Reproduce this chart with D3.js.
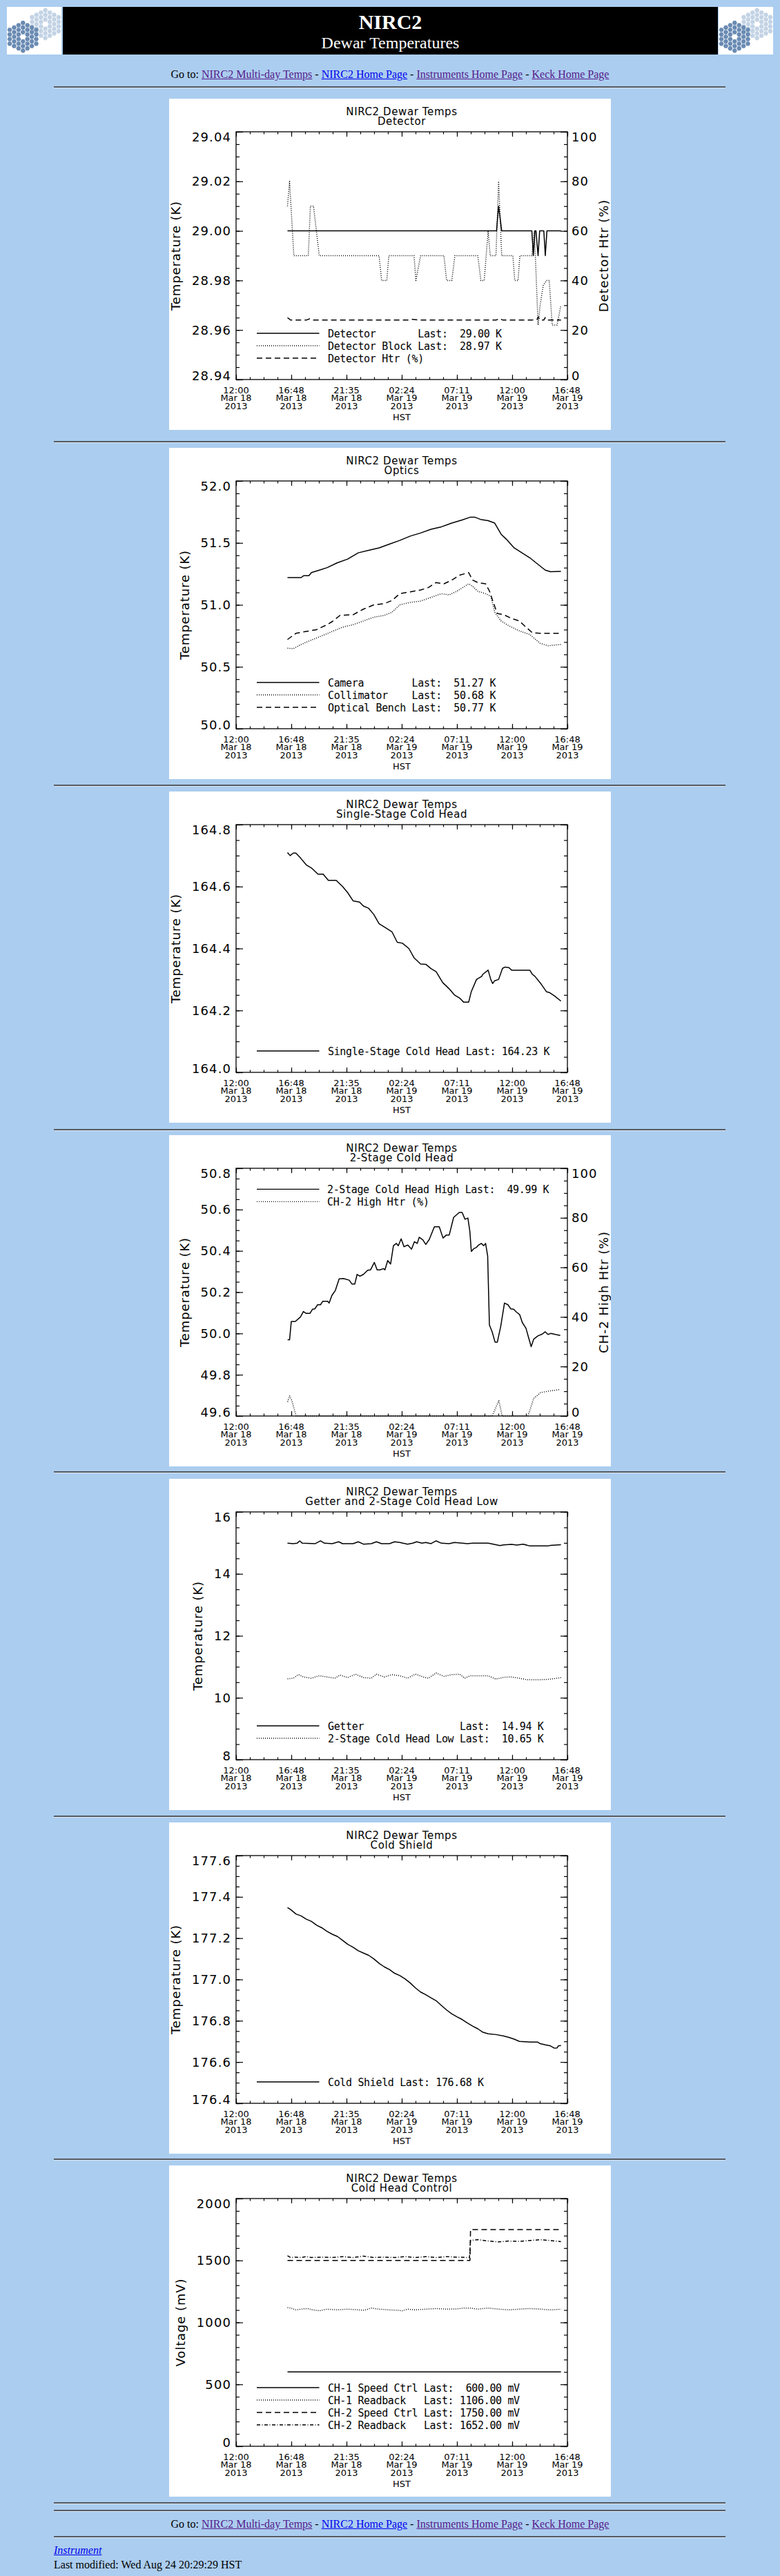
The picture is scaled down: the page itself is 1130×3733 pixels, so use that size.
<!DOCTYPE html>
<html>
<head>
<meta charset="utf-8">
<title>NIRC2 Dewar Temperatures</title>
<script src="https://cdn.jsdelivr.net/npm/d3@7"></script>
<style>
  html, body { margin: 0; padding: 0; }
  body { background: #abcdef; width: 1130px; height: 3733px; position: relative; overflow: hidden;
         font-family: "Liberation Serif", "Times New Roman", serif; font-size: 16px; color: #000; }
  svg.logo { position: absolute; top: 10px; }
  #banner { position: absolute; left: 91px; top: 10px; width: 949px; height: 69px; background: #000; color: #fff; }
  #banner div { position: absolute; left: 0; width: 100%; text-align: center; }
  .rule { position: absolute; left: 78px; width: 973px; height: 0; border-top: 2px solid #545a61; border-bottom: 1px solid #dbe7f3; }
  .nav { position: absolute; left: 0; width: 1130px; text-align: center; line-height: 16px; }
  a { color: #551a8b; }
  a.fresh { color: #0000ee; }
  .foot { position: absolute; left: 78px; line-height: 16px; }
  svg.plot { position: absolute; left: 245px; }
  .ptitle { font-family: "DejaVu Sans", sans-serif; font-size: 15px; letter-spacing: 0.6px; }
  .ylab { font-family: "DejaVu Sans", sans-serif; font-size: 18px; letter-spacing: 1.1px; }
  .xlab { font-family: "DejaVu Sans", sans-serif; font-size: 13px; }
  .ytitle { font-family: "DejaVu Sans", sans-serif; font-size: 18px; letter-spacing: 0.9px; }
  .leg { font-family: "DejaVu Sans Mono", monospace; font-size: 15px; letter-spacing: -0.35px; white-space: pre; }
</style>
</head>
<body>

<div id="banner">
  <div style="top:7px; font-size:30px; line-height:30px; font-weight:bold;">NIRC2</div>
  <div style="top:40px; font-size:24px; line-height:24px;">Dewar Temperatures</div>
</div>

<div class="nav" style="top:100px;">Go to: <a href="#">NIRC2 Multi-day Temps</a> - <a class="fresh" href="#">NIRC2 Home Page</a> - <a href="#">Instruments Home Page</a> - <a href="#">Keck Home Page</a></div>

<div class="rule" style="top:125px;"></div>
<div class="rule" style="top:639px;"></div>
<div class="rule" style="top:1137px;"></div>
<div class="rule" style="top:1636px;"></div>
<div class="rule" style="top:2132px;"></div>
<div class="rule" style="top:2631px;"></div>
<div class="rule" style="top:3128px;"></div>
<div class="rule" style="top:3626px;"></div>
<div class="rule" style="top:3637px;"></div>

<div class="nav" style="top:3650px;">Go to: <a href="#">NIRC2 Multi-day Temps</a> - <a class="fresh" href="#">NIRC2 Home Page</a> - <a href="#">Instruments Home Page</a> - <a href="#">Keck Home Page</a></div>

<div class="rule" style="top:3675px;"></div>

<div class="foot" style="top:3688px;"><a class="fresh" href="#"><i>Instrument</i></a></div>
<div class="foot" style="top:3709px;">Last modified: Wed Aug 24 20:29:29 HST</div>

<script>
// time axis: hours after 12:00 HST Mar 18 2013
var hourTicks = [0, 4.8, 9.6, 14.4, 19.2, 24, 28.8];
var hourMinorTicks = d3.range(0, 25).map(function(i) { return +(i * 1.2).toFixed(2); });
var hourTickLabels = [
  ["12:00", "Mar 18", "2013"],
  ["16:48", "Mar 18", "2013"],
  ["21:35", "Mar 18", "2013"],
  ["02:24", "Mar 19", "2013"],
  ["07:11", "Mar 19", "2013"],
  ["12:00", "Mar 19", "2013"],
  ["16:48", "Mar 19", "2013"]
];

// ---- Detector ----
var detectorTemp = [[4.47,29.00],[22.64,29.00],[22.82,29.01],[23.09,29.00],[25.71,29.00],[25.84,28.99],
  [25.98,29.00],[26.07,29.00],[26.25,28.99],[26.39,29.00],[26.75,29.00],[26.88,28.99],[27.02,29.00],[28.24,29.00]];
var detectorBlockTemp = [[4.47,29.01],[4.65,29.02],[5.02,28.99],[6.28,28.99],[6.46,29.01],[6.73,29.01],[7.23,28.99],
  [12.43,28.99],[12.65,28.98],[13.10,28.98],[13.28,28.99],[15.47,28.99],[15.63,28.98],[16.04,28.99],[18.07,28.99],
  [18.30,28.98],[18.75,28.98],[19.02,28.99],[21.01,28.99],[21.28,28.98],[21.57,28.98],[21.91,29.00],[22.09,28.99],
  [22.59,28.99],[22.82,29.02],[23.09,28.99],[24.06,28.99],[24.22,28.98],[24.51,28.98],[24.67,28.99],[25.71,28.99],
  [25.93,29.00],[26.25,28.962],[26.43,28.97],[26.70,28.978],[26.99,28.98],[27.22,28.98],[27.48,28.962],
  [27.90,28.962],[28.24,28.97]];
var detectorHtr = [[4.47,25],[4.75,24],[6.10,24],[6.40,24.5],[6.70,24],[15.0,24],[15.3,24.3],[16.0,24],[22.6,24],
  [22.9,24.6],[23.2,24],[25.7,24],[26.15,24.2],[26.27,25.3],[26.40,24],[26.75,24],[26.86,25],[26.99,24],[28.24,24]];
var detectorLegend = ["Detector       Last:  29.00 K", "Detector Block Last:  28.97 K", "Detector Htr (%)"];

// ---- Optics ----
var cameraTemp = [[4.47,51.22],[5.65,51.22],[5.87,51.235],[6.33,51.235],[6.55,51.26],[7.23,51.28],[7.91,51.30],
  [8.81,51.34],[9.71,51.37],[10.62,51.42],[11.52,51.44],[12.43,51.46],[13.33,51.49],[14.23,51.52],[15.14,51.555],
  [16.04,51.58],[16.94,51.61],[17.85,51.63],[18.75,51.66],[19.65,51.685],[20.33,51.707],[20.78,51.707],
  [21.24,51.69],[21.91,51.68],[22.48,51.66],[23.04,51.57],[23.49,51.53],[24.17,51.46],[24.85,51.42],
  [25.53,51.38],[26.20,51.33],[26.88,51.28],[27.33,51.267],[28.24,51.27]];
var collimatorTemp = [[4.47,50.65],[4.97,50.646],[5.65,50.68],[6.55,50.716],[7.46,50.75],[8.36,50.785],[9.26,50.82],
  [10.17,50.84],[11.07,50.87],[11.97,50.90],[12.88,50.915],[13.55,50.94],[14.23,51.00],[15.14,51.02],[16.04,51.03],
  [16.94,51.06],[17.85,51.09],[18.52,51.08],[19.20,51.11],[20.22,51.17],[20.56,51.15],[21.01,51.11],[21.69,51.09],
  [22.14,51.07],[22.48,50.94],[23.04,50.87],[23.72,50.83],[24.62,50.79],[25.53,50.76],[26.43,50.69],[27.11,50.67],
  [28.24,50.68]];
var benchTemp = [[4.47,50.72],[5.20,50.77],[6.10,50.785],[7.00,50.80],[7.91,50.84],[8.36,50.865],[9.04,50.915],
  [10.17,50.92],[11.07,50.965],[11.97,51.00],[12.88,51.01],[13.55,51.035],[14.23,51.09],[15.14,51.105],[16.04,51.12],
  [16.72,51.14],[17.39,51.18],[18.07,51.17],[18.75,51.20],[19.43,51.24],[20.22,51.26],[20.56,51.20],[21.01,51.18],
  [21.69,51.17],[22.03,51.11],[22.36,51.02],[22.70,50.93],[23.27,50.92],[23.95,50.89],[24.62,50.87],[25.08,50.83],
  [25.75,50.775],[26.43,50.77],[28.24,50.77]];
var opticsLegend = ["Camera        Last:  51.27 K", "Collimator    Last:  50.68 K", "Optical Bench Last:  50.77 K"];

// ---- Single-Stage Cold Head ----
var singleStageTemp = [[4.47,164.71],[4.70,164.70],[4.97,164.708],[5.20,164.708],[5.65,164.69],[6.10,164.67],
  [6.55,164.66],[7.12,164.64],[7.57,164.64],[8.02,164.62],[8.70,164.62],[9.26,164.60],[9.71,164.58],[10.17,164.554],
  [10.73,164.55],[11.07,164.537],[11.52,164.53],[11.97,164.51],[12.43,164.48],[12.99,164.467],[13.55,164.454],
  [14.01,164.42],[14.46,164.417],[15.02,164.40],[15.47,164.37],[16.04,164.35],[16.49,164.349],[16.94,164.335],
  [17.39,164.325],[17.96,164.29],[18.52,164.27],[18.98,164.25],[19.43,164.24],[19.77,164.227],[20.22,164.227],
  [20.44,164.26],[20.90,164.30],[21.35,164.31],[21.46,164.317],[21.91,164.33],[22.14,164.30],[22.30,164.287],
  [22.48,164.296],[22.82,164.30],[23.16,164.336],[23.38,164.34],[23.72,164.338],[23.95,164.33],[25.53,164.33],
  [25.75,164.317],[25.98,164.31],[26.54,164.284],[26.99,164.26],[27.22,164.258],[27.67,164.247],[28.24,164.23]];
var singleStageLegend = ["Single-Stage Cold Head Last: 164.23 K"];

// ---- 2-Stage Cold Head ----
var twoStageHighTemp = [[4.48,49.969],[4.65,49.969],[4.80,50.058],[5.15,50.058],[5.60,50.08],[5.85,50.106],
  [6.10,50.097],[6.42,50.097],[6.64,50.117],[6.84,50.119],[7.09,50.139],[7.34,50.139],[7.54,50.156],[7.96,50.156],
  [8.09,50.147],[8.33,50.184],[8.63,50.208],[8.96,50.264],[9.33,50.266],[9.83,50.258],[10.08,50.239],[10.32,50.239],
  [10.52,50.286],[10.77,50.277],[11.07,50.286],[11.44,50.306],[11.69,50.308],[12.02,50.344],[12.26,50.308],
  [12.51,50.308],[12.81,50.314],[12.94,50.308],[13.18,50.353],[13.43,50.336],[13.68,50.425],[13.93,50.436],
  [14.10,50.425],[14.35,50.458],[14.60,50.42],[14.93,50.428],[15.25,50.408],[15.50,50.444],[15.75,50.436],
  [15.92,50.466],[16.24,50.453],[16.49,50.431],[16.79,50.455],[17.24,50.517],[17.66,50.517],[17.99,50.462],
  [18.28,50.477],[18.53,50.477],[18.91,50.562],[19.40,50.586],[19.65,50.586],[19.90,50.553],[20.15,50.559],
  [20.32,50.495],[20.45,50.397],[20.65,50.41],[20.90,50.417],[21.07,50.428],[21.32,50.436],[21.52,50.425],
  [21.69,50.436],[21.87,50.375],[22.02,50.041],[22.26,50.008],[22.51,49.958],[22.71,49.958],[23.01,50.036],
  [23.33,50.147],[23.63,50.139],[23.88,50.119],[24.13,50.117],[24.38,50.103],[24.65,50.091],[24.88,50.053],
  [25.20,50.025],[25.45,49.975],[25.65,49.936],[25.87,49.972],[26.24,49.988],[26.62,49.997],[26.87,50.008],
  [27.11,49.995],[27.36,50.0],[27.74,49.995],[28.18,49.99]];
var ch2HighHtr = [[4.48,5.7],[4.65,8.1],[4.85,6.2],[5.22,0],[22.26,0],[22.84,6.2],[23.13,0],[25.37,0],[25.87,7.1],
  [26.49,9.5],[27.24,10.1],[28.18,10.7]];
var twoStageLegend = ["2-Stage Cold Head High Last:  49.99 K", "CH-2 High Htr (%)"];

// ---- Getter and 2-Stage Cold Head Low ----
var getterTemp = [[4.47,14.99],[4.97,14.976],[5.31,14.99],[5.53,15.065],[5.76,14.99],[6.89,14.976],[7.34,15.065],
  [7.68,14.99],[8.36,14.976],[8.92,15.035],[9.26,14.976],[10.17,14.976],[10.62,15.035],[11.07,14.96],[11.75,14.976],
  [12.20,15.035],[12.65,14.976],[13.33,14.976],[13.78,15.035],[14.23,15.013],[14.91,14.96],[15.36,14.99],
  [15.70,15.035],[16.15,14.99],[16.49,15.013],[16.94,14.976],[17.39,15.065],[17.85,14.99],[18.52,14.976],
  [18.98,15.013],[19.65,14.99],[20.11,14.976],[20.56,14.99],[21.91,14.99],[22.36,14.96],[22.93,14.916],
  [23.27,14.938],[23.95,14.953],[24.40,14.93],[24.96,14.96],[25.53,14.90],[27.11,14.90],[27.33,14.92],[28.24,14.94]];
var twoStageLowTemp = [[4.47,10.61],[4.97,10.63],[5.42,10.745],[5.87,10.67],[6.55,10.63],[7.23,10.71],[7.91,10.67],
  [8.58,10.63],[9.04,10.73],[9.71,10.65],[10.39,10.76],[11.07,10.65],[11.75,10.63],[12.20,10.76],[12.88,10.67],
  [13.55,10.745],[14.23,10.71],[14.91,10.63],[15.59,10.76],[16.27,10.67],[16.72,10.63],[17.39,10.80],[18.07,10.69],
  [18.75,10.745],[19.43,10.76],[19.88,10.63],[20.33,10.71],[21.01,10.71],[21.91,10.71],[22.59,10.60],[23.27,10.66],
  [23.95,10.67],[24.62,10.63],[25.30,10.58],[26.43,10.58],[27.33,10.60],[28.24,10.65]];
var getterLegend = ["Getter                Last:  14.94 K", "2-Stage Cold Head Low Last:  10.65 K"];

// ---- Cold Shield ----
var coldShieldTemp = [[4.47,177.348],[4.74,177.339],[5.20,177.317],[5.65,177.308],[6.10,177.292],[6.55,177.281],
  [7.00,177.263],[7.46,177.25],[7.91,177.233],[8.36,177.219],[8.81,177.208],[9.26,177.189],[9.71,177.17],
  [10.17,177.156],[10.62,177.139],[11.07,177.128],[11.52,177.117],[11.97,177.10],[12.43,177.078],[12.88,177.061],
  [13.33,177.048],[13.78,177.03],[14.23,177.019],[14.68,177.003],[15.14,176.983],[15.59,176.959],[16.04,176.939],
  [16.49,176.926],[16.94,176.911],[17.39,176.897],[17.85,176.874],[18.30,176.852],[18.75,176.833],[19.20,176.819],
  [19.65,176.806],[20.11,176.789],[20.56,176.774],[21.01,176.761],[21.46,176.744],[21.91,176.737],[22.59,176.733],
  [23.27,176.726],[23.72,176.719],[24.17,176.711],[24.62,176.70],[25.53,176.697],[26.20,176.697],[26.43,176.689],
  [26.88,176.683],[27.33,176.678],[27.67,176.667],[27.90,176.668],[28.01,176.678],[28.24,176.68]];
var coldShieldLegend = ["Cold Shield Last: 176.68 K"];

// ---- Cold Head Control ----
var ch1SpeedCtrl = [[4.47,600],[28.24,600]];
var ch1Readback = [[4.47,1120],[4.74,1116],[5.20,1101],[5.65,1107],[6.21,1112],[6.66,1101],[7.23,1094],[7.91,1107],
  [8.81,1101],[9.71,1107],[10.62,1101],[11.18,1098],[11.75,1116],[12.43,1107],[13.33,1101],[14.01,1098],[14.46,1094],
  [14.91,1107],[15.59,1101],[16.49,1107],[17.39,1112],[18.30,1107],[19.20,1109],[19.77,1116],[20.33,1116],
  [21.01,1107],[21.91,1116],[22.82,1107],[23.72,1101],[24.62,1107],[25.53,1112],[26.43,1107],[27.33,1101],[28.24,1106]];
var ch2SpeedCtrl = [[4.47,1500],[20.33,1500],[20.38,1750],[28.24,1750]];
var ch2Readback = [[4.47,1538],[4.74,1524],[5.20,1527],[5.65,1524],[6.10,1531],[6.55,1524],[7.46,1527],[8.36,1524],
  [9.26,1531],[10.17,1524],[11.07,1535],[11.97,1524],[12.88,1527],[13.78,1524],[14.68,1531],[15.59,1524],[16.49,1531],
  [17.39,1524],[18.30,1531],[19.20,1527],[20.11,1524],[20.29,1524],[20.38,1663],[21.01,1668],[21.91,1657],
  [22.82,1650],[23.72,1657],[24.62,1654],[25.53,1661],[26.43,1668],[27.33,1661],[28.24,1652]];
var controlLegend = ["CH-1 Speed Ctrl Last:  600.00 mV", "CH-1 Readback   Last: 1106.00 mV",
  "CH-2 Speed Ctrl Last: 1750.00 mV", "CH-2 Readback   Last: 1652.00 mV"];

var dashes = { solid: null, dotted: "1,2", dashed: "8,5", dashdot: "5,2.5,1,2.5" };

// keck mirror logo, drawn as two segmented hex mirrors
function drawLogo(left) {
  var svg = d3.select("body").append("svg").attr("class", "logo")
      .style("left", left + "px").attr("width", 79).attr("height", 69);
  svg.append("rect").attr("width", 79).attr("height", 69).attr("fill", "#fff");
  var cells = [];
  for (var q = -3; q <= 3; q++)
    for (var r = -3; r <= 3; r++)
      if (Math.abs(q + r) <= 3 && !(q === 0 && r === 0)) cells.push([q, r]);
  var hex = function(cx, cy) {
    var w = 3.6, h = 3.1;
    return [[cx - w, cy], [cx - w / 2, cy - h], [cx + w / 2, cy - h], [cx + w, cy], [cx + w / 2, cy + h], [cx - w / 2, cy + h]].join(" ");
  };
  [[55.7, 25, "#c3d3e5"], [23.3, 43.3, "#6a8bb3"]].forEach(function(m) {
    svg.append("g").selectAll("polygon").data(cells).enter().append("polygon")
      .attr("points", function(c) { return hex(m[0] + c[0] * 6.4, m[1] + (c[1] + c[0] / 2) * 6.7); })
      .attr("fill", m[2]);
  });
}
drawLogo(10);
drawLogo(1041);

function stepValues(dom, step) {
  var n = Math.round((dom[1] - dom[0]) / step);
  return d3.range(n + 1).map(function(i) { return +(dom[0] + i * step).toFixed(6); });
}

function drawPlot(cfg) {
  var svg = d3.select("body").append("svg")
      .attr("class", "plot")
      .attr("width", 640).attr("height", 480)
      .style("top", cfg.top + "px");
  svg.append("rect").attr("width", 640).attr("height", 480).attr("fill", "#fff");

  var x = d3.scaleLinear().domain([hourTicks[0], hourTicks[hourTicks.length - 1]]).range([97, 577]);
  var y = d3.scaleLinear().domain(cfg.yDomain).range([407, 48]);
  var y2 = cfg.right ? d3.scaleLinear().domain(cfg.right.domain).range([407, 48]) : null;

  // titles
  var title = svg.append("text").attr("class", "ptitle").attr("text-anchor", "middle");
  title.append("tspan").attr("x", 337).attr("y", 23.5).text("NIRC2 Dewar Temps");
  title.append("tspan").attr("x", 337).attr("y", 38).text(cfg.subtitle);

  // inward ticks on all four sides
  var g = svg.append("g");
  g.append("g").attr("transform", "translate(0,407)")
    .call(d3.axisBottom(x).tickValues(hourTicks).tickSize(-7).tickFormat(""));
  g.append("g").attr("transform", "translate(0,407)")
    .call(d3.axisBottom(x).tickValues(hourMinorTicks).tickSize(-3.5).tickFormat(""));
  g.append("g").attr("transform", "translate(0,48)")
    .call(d3.axisTop(x).tickValues(hourTicks).tickSize(-7).tickFormat(""));
  g.append("g").attr("transform", "translate(0,48)")
    .call(d3.axisTop(x).tickValues(hourMinorTicks).tickSize(-3.5).tickFormat(""));

  var yMajor = stepValues(cfg.yDomain, cfg.yStep);
  var yMinor = stepValues(cfg.yDomain, cfg.yMinor);
  g.append("g").attr("transform", "translate(97,0)")
    .call(d3.axisLeft(y).tickValues(yMajor).tickSize(-10).tickFormat(""));
  g.append("g").attr("transform", "translate(97,0)")
    .call(d3.axisLeft(y).tickValues(yMinor).tickSize(-5).tickFormat(""));

  var rScale = y2 || y;
  var rMajor = cfg.right ? stepValues(cfg.right.domain, cfg.right.step) : yMajor;
  var rMinor = cfg.right ? stepValues(cfg.right.domain, cfg.right.minor) : yMinor;
  g.append("g").attr("transform", "translate(577,0)")
    .call(d3.axisRight(rScale).tickValues(rMajor).tickSize(-10).tickFormat(""));
  g.append("g").attr("transform", "translate(577,0)")
    .call(d3.axisRight(rScale).tickValues(rMinor).tickSize(-5).tickFormat(""));

  g.selectAll(".domain").remove();
  g.selectAll("text").remove();
  g.selectAll("line").attr("stroke", "#000").attr("stroke-width", 1.2);

  svg.append("rect").attr("x", 97).attr("y", 48).attr("width", 480).attr("height", 359)
    .attr("fill", "none").attr("stroke", "#000").attr("stroke-width", 1.3);

  // y tick labels: end labels are pulled inside the axis range
  function yLabels(scale, values, fmt, xPos, anchor) {
    var lo = d3.min(values), hi = d3.max(values);
    return svg.append("g").selectAll("text").data(values).enter().append("text")
      .attr("class", "ylab").attr("x", xPos).attr("text-anchor", anchor)
      .attr("y", function(v) {
        var p = scale(v);
        if (v === hi) return p + 14.2;
        if (v === lo) return p + 0.5;
        return p + 6.6;
      })
      .text(d3.format(fmt));
  }
  var leftLabs = yLabels(y, yMajor, cfg.yFormat, 90, "end");
  var maxW = d3.max(leftLabs.nodes(), function(n) { return n.getComputedTextLength(); });
  svg.append("text").attr("class", "ytitle").attr("text-anchor", "middle")
    .attr("transform", "translate(" + (90 - maxW - 16.5) + ",227.5) rotate(-90)")
    .text(cfg.yTitle);

  if (cfg.right) {
    yLabels(y2, rMajor, "d", 583, "start");
    svg.append("text").attr("class", "ytitle").attr("text-anchor", "middle")
      .attr("transform", "translate(635.5,227.5) rotate(-90)")
      .text(cfg.right.title);
  }

  // x tick labels
  svg.append("g").selectAll("text").data(hourTicks).enter().append("text")
    .attr("class", "xlab").attr("text-anchor", "middle")
    .each(function(h, i) {
      var t = d3.select(this);
      hourTickLabels[i].forEach(function(s, k) {
        t.append("tspan").attr("x", x(h)).attr("y", 426.5 + k * 11.9).text(s);
      });
    });
  svg.append("text").attr("class", "xlab").attr("x", 337).attr("y", 465.5)
    .attr("text-anchor", "middle").text("HST");

  // data
  cfg.series.forEach(function(s) {
    var sc = s.axis === "right" ? y2 : y;
    svg.append("path").datum(s.data)
      .attr("fill", "none").attr("stroke", "#000").attr("stroke-width", 1.5)
      .attr("stroke-linejoin", "round")
      .attr("stroke-dasharray", dashes[s.style])
      .attr("d", d3.line().x(function(d) { return x(d[0]); }).y(function(d) { return sc(d[1]); }));
  });

  // legend
  cfg.series.forEach(function(s, i) {
    var ly = cfg.legendY + i * 18;
    svg.append("line").attr("x1", 127).attr("x2", 217.5).attr("y1", ly).attr("y2", ly)
      .attr("stroke", "#000").attr("stroke-width", 1.3)
      .attr("stroke-dasharray", dashes[s.style]);
    svg.append("text").attr("class", "leg").attr("xml:space", "preserve")
      .attr("x", cfg.legendX || 230).attr("y", ly + 5.5)
      .text(cfg.legend[i]);
  });
}

drawPlot({
  top: 143, subtitle: "Detector", yTitle: "Temperature (K)",
  yDomain: [28.94, 29.04], yStep: 0.02, yMinor: 0.005, yFormat: ".2f",
  right: { domain: [0, 100], step: 20, minor: 5, title: "Detector Htr (%)" },
  series: [
    { data: detectorTemp, style: "solid" },
    { data: detectorBlockTemp, style: "dotted" },
    { data: detectorHtr, style: "dashed", axis: "right" }
  ],
  legend: detectorLegend, legendY: 340
});

drawPlot({
  top: 649, subtitle: "Optics", yTitle: "Temperature (K)",
  yDomain: [50.0, 52.0], yStep: 0.5, yMinor: 0.1, yFormat: ".1f",
  series: [
    { data: cameraTemp, style: "solid" },
    { data: collimatorTemp, style: "dotted" },
    { data: benchTemp, style: "dashed" }
  ],
  legend: opticsLegend, legendY: 340
});

drawPlot({
  top: 1147, subtitle: "Single-Stage Cold Head", yTitle: "Temperature (K)",
  yDomain: [164.0, 164.8], yStep: 0.2, yMinor: 0.05, yFormat: ".1f",
  series: [ { data: singleStageTemp, style: "solid" } ],
  legend: singleStageLegend, legendY: 376
});

drawPlot({
  top: 1645, subtitle: "2-Stage Cold Head", yTitle: "Temperature (K)",
  yDomain: [49.6, 50.8], yStep: 0.2, yMinor: 0.05, yFormat: ".1f",
  right: { domain: [0, 100], step: 20, minor: 5, title: "CH-2 High Htr (%)" },
  series: [
    { data: twoStageHighTemp, style: "solid" },
    { data: ch2HighHtr, style: "dotted", axis: "right" }
  ],
  legend: twoStageLegend, legendY: 78.3, legendX: 229
});

drawPlot({
  top: 2143, subtitle: "Getter and 2-Stage Cold Head Low", yTitle: "Temperature (K)",
  yDomain: [8, 16], yStep: 2, yMinor: 0.5, yFormat: "d",
  series: [
    { data: getterTemp, style: "solid" },
    { data: twoStageLowTemp, style: "dotted" }
  ],
  legend: getterLegend, legendY: 358
});

drawPlot({
  top: 2641, subtitle: "Cold Shield", yTitle: "Temperature (K)",
  yDomain: [176.4, 177.6], yStep: 0.2, yMinor: 0.05, yFormat: ".1f",
  series: [ { data: coldShieldTemp, style: "solid" } ],
  legend: coldShieldLegend, legendY: 376
});

drawPlot({
  top: 3138, subtitle: "Cold Head Control", yTitle: "Voltage (mV)",
  yDomain: [0, 2000], yStep: 500, yMinor: 100, yFormat: "d",
  series: [
    { data: ch1SpeedCtrl, style: "solid" },
    { data: ch1Readback, style: "dotted" },
    { data: ch2SpeedCtrl, style: "dashed" },
    { data: ch2Readback, style: "dashdot" }
  ],
  legend: controlLegend, legendY: 322
});
</script>
</body>
</html>
